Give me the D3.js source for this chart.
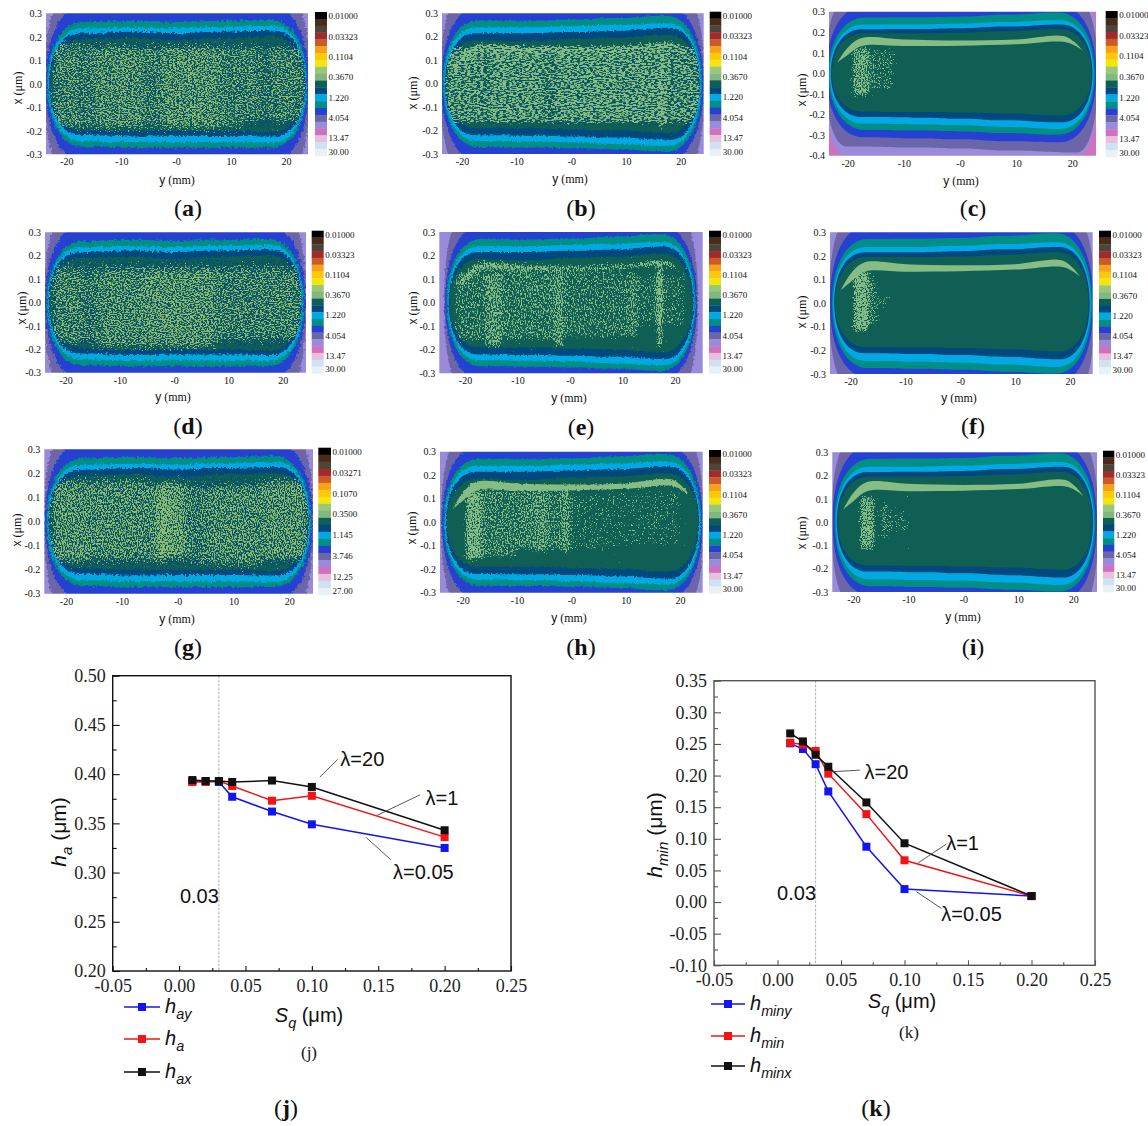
<!DOCTYPE html>
<html>
<head>
<meta charset="utf-8">
<script src="https://cdn.jsdelivr.net/npm/d3@7"></script>
<style>
  body { margin: 0; background: #fff; }
  svg { display: block; }
  text { fill: #111; }
  .serif { font-family: "Liberation Serif", serif; }
  .sans { font-family: "Liberation Sans", sans-serif; }
</style>
</head>
<body>
<div id="chart"></div>
<script>
// colour scale of the film thickness maps, top to bottom
var barColors = ["#000000", "#4a2a18", "#4c4638", "#a02a2c", "#c95a2a", "#f5a21a", "#fcc80a", "#f2e60e",
  "#98c878", "#7fb981", "#0f5f55", "#00487e", "#00a9e4", "#008f84", "#2640d2", "#6c66a8", "#9a8ada",
  "#d070c0", "#e8c0de", "#cfe2f2", "#e8f1f6"];
var barLabels = ["0.01000", "0.03323", "0.1104", "0.3670", "1.220", "4.054", "13.47", "30.00"];
var barLabelsG = ["0.01000", "0.03271", "0.1070", "0.3500", "1.145", "3.746", "12.25", "27.00"];
var barLabelSteps = [0, 1, 2, 3, 4, 5, 6, 6.68];

var mapYTicks = [-20, -10, 0, 10, 20];
var mapYLabels = ["-20", "-10", "-0", "10", "20"];
var mapXTicks = [-0.3, -0.2, -0.1, 0, 0.1, 0.2, 0.3];
var mapXTicksC = [-0.4, -0.3, -0.2, -0.1, 0, 0.1, 0.2, 0.3];

// contour rows: left, right, corner run, top at 5 stations, bottom at 5 stations (outer to inner)
var bandFills = ["#6c66a8", "#2640d2", "#008f84", "#00a9e4", "#00487e", "#0f5f55"];
var roughContours = [
  [-24, 24.4, 3.5, 0.36, 0.36, 0.36, 0.36, 0.36, -0.36, -0.36, -0.36, -0.36, -0.36],
  [-23.8, 24.2, 6.5, 0.325, 0.325, 0.325, 0.325, 0.325, -0.325, -0.325, -0.325, -0.325, -0.325],
  [-23.5, 23.9, 6.5, 0.262, 0.268, 0.264, 0.268, 0.272, -0.268, -0.272, -0.272, -0.272, -0.272],
  [-23.3, 23.7, 6, 0.236, 0.24, 0.236, 0.242, 0.246, -0.244, -0.248, -0.248, -0.248, -0.25],
  [-23.1, 23.5, 5.5, 0.215, 0.222, 0.216, 0.222, 0.226, -0.218, -0.224, -0.222, -0.222, -0.224],
  [-22.9, 23.3, 5.5, 0.19, 0.195, 0.185, 0.195, 0.2, -0.195, -0.2, -0.2, -0.2, -0.205]
];
var midContours = [
  [-24, 24.4, 3.5, 0.36, 0.36, 0.36, 0.36, 0.36, -0.36, -0.36, -0.36, -0.36, -0.36],
  [-23.8, 24.2, 6.5, 0.325, 0.325, 0.325, 0.325, 0.325, -0.325, -0.325, -0.325, -0.325, -0.325],
  [-23.5, 23.9, 6.5, 0.27, 0.268, 0.272, 0.28, 0.29, -0.27, -0.272, -0.275, -0.28, -0.29],
  [-23.3, 23.7, 6, 0.24, 0.24, 0.245, 0.25, 0.258, -0.245, -0.247, -0.25, -0.258, -0.265],
  [-23.1, 23.5, 5.5, 0.215, 0.215, 0.22, 0.225, 0.238, -0.22, -0.222, -0.225, -0.23, -0.24],
  [-22.9, 23.3, 5.5, 0.185, 0.18, 0.19, 0.195, 0.208, -0.19, -0.19, -0.195, -0.2, -0.21]
];
var smoothContours = [
  [-24, 24.6, 3.8, 0.36, 0.36, 0.36, 0.36, 0.36, -0.355, -0.36, -0.365, -0.375, -0.385],
  [-23.8, 24.3, 6.5, 0.325, 0.32, 0.32, 0.325, 0.33, -0.31, -0.316, -0.32, -0.33, -0.335],
  [-23.4, 24, 6.5, 0.272, 0.273, 0.276, 0.285, 0.296, -0.275, -0.278, -0.282, -0.29, -0.298],
  [-23.2, 23.8, 6, 0.238, 0.238, 0.243, 0.25, 0.258, -0.245, -0.248, -0.252, -0.26, -0.27],
  [-23, 23.6, 5.5, 0.215, 0.216, 0.22, 0.228, 0.238, -0.212, -0.215, -0.22, -0.228, -0.238],
  [-22.8, 23.4, 5.5, 0.195, 0.195, 0.198, 0.205, 0.215, -0.186, -0.188, -0.19, -0.195, -0.205]
];
var pinkContour = [-24.4, 24.9, 4.5, 0.42, 0.42, 0.42, 0.42, 0.42, -0.41, -0.41, -0.41, -0.415, -0.415];
var contourStations = [-8, 0, 8];

// the light green crescent under the top of the film
var crescentY = [-21.8, -20, -17.5, -10, 0, 10, 18.4, 20.5, 21.8];
var crescentTop = [0.055, 0.125, 0.172, 0.165, 0.16, 0.165, 0.182, 0.15, 0.112];
var crescentBottom = [0.055, 0.09, 0.133, 0.133, 0.135, 0.142, 0.154, 0.135, 0.112];

// speckle patches per map: y from, y to, x from, x to, density
var speckA = [[-23, -17, -0.2, 0.18, 0.64], [-17, -15.5, -0.2, 0.18, 0.56], [-15.5, -6, -0.2, 0.17, 0.68], [-6, -3, -0.2, 0.17, 0.6], [-3, 8, -0.2, 0.17, 0.7], [8, 12, -0.2, 0.17, 0.62], [12, 15, -0.17, 0.17, 0.66], [15, 17, -0.17, 0.17, 0.56], [17, 24, -0.17, 0.17, 0.64]];
var speckB = [[-23, -16, -0.17, 0.16, 0.7], [-16, -15, -0.17, 0.16, 0.62], [-15, -5, -0.17, 0.16, 0.72], [-5, -3, -0.17, 0.16, 0.62], [-3, 15, -0.17, 0.16, 0.72], [15, 16, -0.17, 0.16, 0.72], [16, 17, -0.2, 0.17, 0.86], [17, 24, -0.17, 0.16, 0.68]];
var speckC = [[-19.2, -16, -0.11, 0.13, 0.76], [-16, -11.6, -0.08, 0.12, 0.48]];
var speckD = [[-23, -16.5, -0.18, 0.16, 0.64], [-16.5, -14.5, -0.18, 0.16, 0.56], [-14.5, -6, -0.2, 0.16, 0.66], [-6, 8, -0.2, 0.16, 0.7], [8, 15, -0.17, 0.16, 0.62], [15, 24, -0.17, 0.16, 0.64]];
var speckE = [[-22, -16, -0.17, 0.13, 0.54], [-16, -13, -0.19, 0.13, 0.72], [-13, -3, -0.16, 0.13, 0.58], [-3, -1.2, -0.19, 0.13, 0.74], [-1.2, 11, -0.15, 0.13, 0.54], [11, 13, -0.15, 0.13, 0.66], [16.6, 17.6, -0.19, 0.16, 1], [13, 22, -0.1, 0.12, 0.48]];
var speckF = [[-19.6, -16.6, -0.12, 0.14, 0.88], [-16.6, -14.8, -0.09, 0.11, 0.5], [-14.8, -13, -0.02, 0.03, 0.44]];
var speckG = [[-23, -16, -0.18, 0.18, 0.7], [-16, -5, -0.17, 0.18, 0.68], [-5, -2, -0.18, 0.16, 0.64], [-3.5, 1.5, -0.16, 0.17, 0.78], [1.5, 5, -0.18, 0.16, 0.6], [5, 15, -0.19, 0.16, 0.68], [15, 24, -0.17, 0.18, 0.7]];
var speckH = [[-19.6, -16.4, -0.16, 0.14, 0.84], [-16.4, -10, -0.15, 0.14, 0.58], [-10, -7, -0.12, 0.14, 0.62], [-7, -4, -0.13, 0.14, 0.7], [-4, -1.8, -0.12, 0.14, 0.58], [-1.8, -0.2, -0.13, 0.14, 0.74], [-0.2, 7, -0.12, 0.12, 0.4], [7, 20, -0.1, 0.13, 0.38]];
var speckI = [[-18.9, -16, -0.12, 0.11, 0.8], [-15, -13.5, -0.08, 0.08, 0.56], [-13.5, -10, -0.04, 0.04, 0.42]];
var speckList = [speckA, speckB, speckC, speckD, speckE, speckF, speckG, speckH, speckI];

// crescent drawn as grains on maps b and e, density
var crescentGrain = [0, 0.78, 0, 0, 0.86, 0, 0, 0, 0];

// navy and yellow grains of the rough maps
var navyRough = [[-23.5, 24, -0.2, 0.19, 0.62]];
var navyB = [[-23, 24, -0.19, 0.18, 0.5]];
var yellowRough = [[-23, 23, -0.19, 0.17, 0.02]];

var panelNames = ["a", "b", "c", "d", "e", "f", "g", "h", "i"];
// plot left, top, right, bottom, tick -20, tick 20
var panelBoxes = [
  [46, 13.3, 308, 154.3, 66.3, 286], [442, 13.3, 703.7, 154, 462, 680.7], [829, 11.7, 1096, 155.7, 847.7, 1072.3],
  [45, 232.3, 306, 372.7, 65.7, 282.7], [439.3, 232, 702.7, 373.3, 465, 675], [830, 232.3, 1092.7, 374, 850.7, 1070],
  [44.3, 449.3, 313, 593.7, 66, 289.3], [440, 451.7, 702.7, 592.7, 462.7, 680], [832.3, 452.3, 1097, 592, 853.3, 1073.3]
];
// colour bar left, top, right, bottom
var barBoxes = [
  [315, 12, 327, 156], [709.7, 11.7, 721.3, 155.7], [1105.7, 11, 1117.7, 157],
  [311.7, 230.7, 323.7, 373.3], [709, 230.7, 721, 373.3], [1099, 230.7, 1111, 374],
  [318.3, 447.7, 331, 595], [709, 450, 721, 593.3], [1103, 450.7, 1114.3, 592]
];
// x title x, x title y, y title x, y title y, letter x, letter y
var titleSpots = [
  [18, 88, 177, 180, 188, 208], [413, 93, 570, 179, 581, 208], [802, 90, 961, 181, 973, 208],
  [21.7, 308, 173, 397, 188, 426], [412.7, 308, 569, 398, 581, 426.7], [802, 312, 959, 398, 973, 426],
  [16.7, 530, 177, 619, 188, 646.7], [412, 528, 569, 618, 581, 646.7], [802, 533, 963, 617, 973, 646.7]
];
var panelKind = ["rough", "mid", "smooth", "rough", "mid", "smooth", "rough", "mid", "smooth"];
var grainFreq = ["0.53 0.83", "0.31 0.93", "0.83 0.79", "0.53 0.83", "0.83 0.47", "0.83 0.79", "0.83 0.53", "0.83 0.53", "0.83 0.79"];

// line charts
var sqValues = [0.01, 0.02, 0.03, 0.04, 0.07, 0.10, 0.20];
var hay = [0.393, 0.393, 0.392, 0.377, 0.362, 0.349, 0.325];
var ha = [0.392, 0.392, 0.393, 0.388, 0.373, 0.378, 0.336];
var hax = [0.394, 0.393, 0.393, 0.392, 0.3935, 0.387, 0.343];
var hminy = [0.251, 0.242, 0.218, 0.175, 0.0875, 0.0205, 0.0095];
var hmin = [0.252, 0.249, 0.239, 0.203, 0.139, 0.066, 0.0095];
var hminx = [0.2666, 0.254, 0.233, 0.214, 0.1575, 0.093, 0.0095];

var sqTicks = [-0.05, 0, 0.05, 0.10, 0.15, 0.20, 0.25];
var sqMinor = [-0.025, 0.025, 0.075, 0.125, 0.175, 0.225];
var haTicks = [0.20, 0.25, 0.30, 0.35, 0.40, 0.45, 0.50];
var haMinor = [0.225, 0.275, 0.325, 0.375, 0.425, 0.475];
var hminTicks = [-0.10, -0.05, 0, 0.05, 0.10, 0.15, 0.20, 0.25, 0.30, 0.35];
var hminMinor = [-0.075, -0.025, 0.025, 0.075, 0.125, 0.175, 0.225, 0.275, 0.325];

var lineColors = ["#1414f0", "#f01414", "#111111"];
var lambdaLabels = ["λ=20", "λ=1", "λ=0.05"];
// leader x1, y1, x2, y2, label x, label y
var haNotes = [[0.106, 0.397, 0.1195, 0.415, 0.138, 0.4155], [0.149, 0.358, 0.1815, 0.379, 0.198, 0.376], [0.141, 0.3355, 0.1595, 0.313, 0.184, 0.301]];
var hminNotes = [[0.0425, 0.206, 0.0648, 0.2086, 0.0858, 0.206], [0.1108, 0.062, 0.133, 0.0917, 0.1457, 0.0927], [0.1094, 0.0163, 0.129, -0.01, 0.1528, -0.019]];

var svg = d3.select("#chart").append("svg").attr("width", 1148).attr("height", 1126);
var defs = svg.append("defs");

function addRoughFilter(id, freq, scale) {
  var f = defs.append("filter").attr("id", id).attr("color-interpolation-filters", "sRGB");
  f.append("feTurbulence").attr("type", "fractalNoise").attr("baseFrequency", freq).attr("numOctaves", 2).attr("seed", 7);
  f.append("feDisplacementMap").attr("in", "SourceGraphic").attr("scale", scale)
    .attr("xChannelSelector", "R").attr("yChannelSelector", "G");
  f.append("feGaussianBlur").attr("stdDeviation", 0.35);
}
addRoughFilter("edgeRough", 0.37, 6);
addRoughFilter("edgeMid", 0.41, 3.5);
addRoughFilter("edgeSmooth", 0.53, 1);

// grain: the patch alpha decides how much of the noise comes through
function addGrainFilter(id, color, freq, seed, soft) {
  var f = defs.append("filter").attr("id", id).attr("color-interpolation-filters", "sRGB")
    .attr("x", "-5%").attr("y", "-5%").attr("width", "110%").attr("height", "110%");
  f.append("feTurbulence").attr("type", "fractalNoise").attr("baseFrequency", freq).attr("numOctaves", 2).attr("seed", seed).attr("result", "n");
  f.append("feColorMatrix").attr("in", "n").attr("type", "matrix")
    .attr("values", "0 0 0 0 0  0 0 0 0 0  0 0 0 0 0  1 0 0 0 0").attr("result", "na");
  f.append("feGaussianBlur").attr("in", "SourceAlpha").attr("stdDeviation", soft).attr("result", "dens");
  f.append("feComposite").attr("in", "na").attr("in2", "dens").attr("operator", "arithmetic")
    .attr("k1", 0).attr("k2", 1).attr("k3", 0.5).attr("k4", -0.8).attr("result", "m");
  var t = f.append("feComponentTransfer").attr("in", "m").attr("result", "hard");
  t.append("feFuncA").attr("type", "linear").attr("slope", 10);
  f.append("feFlood").attr("flood-color", color);
  f.append("feComposite").attr("in2", "hard").attr("operator", "in");
  f.append("feGaussianBlur").attr("stdDeviation", 0.3);
}

function contourPath(row, sx, sy) {
  var left = row[0], right = row[1], run = row[2];
  var tops = row.slice(3, 8), bots = row.slice(8, 13);
  var ys = [left + run].concat(contourStations, [right - run]);
  var p = d3.path();
  p.moveTo(sx(left), sy(0));
  p.bezierCurveTo(sx(left), sy(tops[0] * 0.6), sx(left + run * 0.42), sy(tops[0]), sx(ys[0]), sy(tops[0]));
  for (var i = 1; i < ys.length; i++) {
    var mx = sx((ys[i - 1] + ys[i]) / 2);
    p.bezierCurveTo(mx, sy(tops[i - 1]), mx, sy(tops[i]), sx(ys[i]), sy(tops[i]));
  }
  p.bezierCurveTo(sx(right - run * 0.42), sy(tops[4]), sx(right), sy(tops[4] * 0.6), sx(right), sy(0));
  p.bezierCurveTo(sx(right), sy(bots[4] * 0.6), sx(right - run * 0.42), sy(bots[4]), sx(ys[4]), sy(bots[4]));
  for (var j = ys.length - 2; j >= 0; j--) {
    var mb = sx((ys[j + 1] + ys[j]) / 2);
    p.bezierCurveTo(mb, sy(bots[j + 1]), mb, sy(bots[j]), sx(ys[j]), sy(bots[j]));
  }
  p.bezierCurveTo(sx(left + run * 0.42), sy(bots[0]), sx(left), sy(bots[0] * 0.6), sx(left), sy(0));
  p.closePath();
  return p.toString();
}

function drawSpeckles(parent, id, color, freq, seed, patches, sx, sy, soft) {
  addGrainFilter(id, color, freq, seed, soft);
  var layer = parent.append("g").attr("filter", "url(#" + id + ")");
  layer.selectAll("rect").data(patches).enter().append("rect")
    .attr("x", function(d) { return sx(d[0]); })
    .attr("width", function(d) { return sx(d[1]) - sx(d[0]); })
    .attr("y", function(d) { return sy(d[3]); })
    .attr("height", function(d) { return sy(d[2]) - sy(d[3]); })
    .attr("fill", "#000")
    .attr("fill-opacity", function(d) { return d[4]; });
  return layer;
}

function crescentPath(sx, sy) {
  var area = d3.area().curve(d3.curveCatmullRom)
    .x(function(k) { return sx(crescentY[k]); })
    .y0(function(k) { return sy(crescentBottom[k]); })
    .y1(function(k) { return sy(crescentTop[k]); });
  return area(d3.range(crescentY.length));
}

function drawMap(i) {
  var box = panelBoxes[i], name = panelNames[i], kind = panelKind[i];
  var contours = kind == "rough" ? roughContours : (kind == "mid" ? midContours : smoothContours);
  var xMin = name == "c" ? -0.4 : -0.3;
  var sx = d3.scaleLinear().domain([-20, 20]).range([box[4], box[5]]);
  var sy = d3.scaleLinear().domain([xMin, 0.3]).range([box[3], box[1]]);

  defs.append("clipPath").attr("id", "plot-" + name).append("rect")
    .attr("x", box[0]).attr("y", box[1]).attr("width", box[2] - box[0]).attr("height", box[3] - box[1]);
  defs.append("clipPath").attr("id", "core-" + name).append("path").attr("d", contourPath(contours[4], sx, sy));

  var plot = svg.append("g").attr("clip-path", "url(#plot-" + name + ")");
  var edge = kind == "rough" ? "edgeRough" : (kind == "mid" ? "edgeMid" : "edgeSmooth");
  var bands = plot.append("g").attr("filter", "url(#" + edge + ")");
  bands.append("rect").attr("x", box[0] - 20).attr("y", box[1] - 20)
    .attr("width", box[2] - box[0] + 40).attr("height", box[3] - box[1] + 40)
    .attr("fill", name == "c" ? "#d070c0" : "#9a8ada");
  if (name == "c") bands.append("path").attr("d", contourPath(pinkContour, sx, sy)).attr("fill", "#9a8ada");
  bands.selectAll("path.band").data(contours).enter().append("path").attr("class", "band")
    .attr("d", function(d) { return contourPath(d, sx, sy); })
    .attr("fill", function(d, k) { return bandFills[k]; });

  if (name == "c" || name == "f" || name == "h" || name == "i") {
    bands.append("path").attr("d", crescentPath(sx, sy)).attr("fill", "#86bd84");
  }

  var core = plot.append("g").attr("clip-path", "url(#core-" + name + ")");
  if (kind == "rough") drawSpeckles(core, "navy-" + name, "#00487e", grainFreq[i], 11 + i, navyRough, sx, sy, 4);
  if (name == "b") drawSpeckles(core, "navy-" + name, "#00487e", grainFreq[i], 11 + i, navyB, sx, sy, 4);
  var green = kind == "rough" ? "#8cbc70" : "#86bd84";
  var grains = drawSpeckles(core, "green-" + name, green, grainFreq[i], 31 + i, speckList[i], sx, sy, kind == "rough" ? 4 : 2);
  if (crescentGrain[i] > 0) {
    grains.append("path").attr("d", crescentPath(sx, sy)).attr("fill", "#000").attr("fill-opacity", crescentGrain[i]);
  }
  if (kind == "rough") drawSpeckles(core, "yellow-" + name, "#e4dc3c", "0.47 0.83", 51 + i, yellowRough, sx, sy, 1);

  // axes
  var axisX = d3.axisBottom(sx).tickValues(mapYTicks).tickSize(0).tickPadding(4)
    .tickFormat(function(d, k) { return mapYLabels[k]; });
  var gx = svg.append("g").attr("transform", "translate(0," + box[3] + ")").call(axisX);
  var axisY = d3.axisLeft(sy).tickValues(name == "c" ? mapXTicksC : mapXTicks).tickSize(0).tickPadding(4)
    .tickFormat(function(d) { return d3.format(".1f")(d).replace("−", "-"); });
  var gy = svg.append("g").attr("transform", "translate(" + box[0] + ",0)").call(axisY);
  [gx, gy].forEach(function(a) {
    a.attr("font-family", '"Liberation Serif", serif').attr("font-size", 10);
    a.select(".domain").remove();
  });

  // colour bar
  var bar = barBoxes[i];
  var cell = d3.scaleBand().domain(d3.range(barColors.length)).range([bar[1], bar[3]]);
  svg.append("g").selectAll("rect").data(barColors).enter().append("rect")
    .attr("x", bar[0]).attr("width", bar[2] - bar[0])
    .attr("y", function(d, k) { return cell(k); }).attr("height", cell.bandwidth() + 0.3)
    .attr("fill", function(d) { return d; });
  var labelY = d3.scaleLinear().domain([0, 6.68]).range([bar[1] + 4, bar[3] - 4]);
  svg.append("g").selectAll("text").data(name == "g" ? barLabelsG : barLabels).enter().append("text")
    .attr("class", "serif").attr("x", bar[2] + 1.5)
    .attr("y", function(d, k) { return labelY(barLabelSteps[k]); })
    .attr("dy", "0.35em").style("font-size", "9px").text(function(d) { return d; });

  // titles
  var spot = titleSpots[i];
  var xt = svg.append("text").attr("transform", "translate(" + spot[0] + "," + spot[1] + ") rotate(-90)")
    .attr("text-anchor", "middle").attr("dy", "0.35em").style("font-size", "12px").attr("class", "sans");
  xt.append("tspan").text("x");
  xt.append("tspan").attr("class", "serif").text(" (μm)");
  var yt = svg.append("text").attr("x", spot[2]).attr("y", spot[3]).attr("text-anchor", "middle")
    .attr("dy", "0.35em").style("font-size", "12px").attr("class", "sans");
  yt.append("tspan").text("y");
  yt.append("tspan").attr("class", "serif").text(" (mm)");
  addLetter(spot[4], spot[5], name);
}

function addLetter(x, y, name) {
  var t = svg.append("text").attr("class", "serif").attr("x", x).attr("y", y).attr("text-anchor", "middle")
    .attr("dy", "0.33em").style("font-size", "24px");
  t.append("tspan").text("(");
  t.append("tspan").style("font-weight", "bold").text(name);
  t.append("tspan").text(")");
}

panelNames.forEach(function(d, i) { drawMap(i); });

// text with an italic subscript
function subText(parent, x, y, size, main, sub, tail) {
  var t = parent.append("text").attr("class", "sans").attr("x", x).attr("y", y).style("font-size", size + "px");
  t.append("tspan").style("font-style", "italic").text(main);
  t.append("tspan").style("font-style", "italic").style("font-size", (size * 0.72) + "px").attr("dy", size * 0.3).text(sub);
  if (tail) t.append("tspan").style("font-size", size + "px").attr("dy", -size * 0.3).text(tail);
  return t;
}

function drawLineChart(opt) {
  var sx = d3.scaleLinear().domain([-0.05, 0.25]).range([opt.left, opt.right]);
  var sy = d3.scaleLinear().domain(opt.domain).range([opt.bottom, opt.top]);
  var g = svg.append("g");
  var plain = function(d) { return d3.format(".2f")(d).replace("−", "-"); };

  g.append("line").attr("x1", sx(0.03)).attr("x2", sx(0.03)).attr("y1", opt.top).attr("y2", opt.bottom)
    .attr("stroke", "#888").attr("stroke-width", 0.7).attr("stroke-dasharray", "2.5 1.5");

  var bx = d3.axisBottom(sx).tickValues(sqTicks).tickSizeInner(-5).tickSizeOuter(0).tickPadding(8).tickFormat(plain);
  var by = d3.axisLeft(sy).tickValues(opt.yTicks).tickSizeInner(-7).tickSizeOuter(0).tickPadding(7).tickFormat(plain);
  var gx = g.append("g").attr("transform", "translate(0," + opt.bottom + ")").call(bx);
  var gy = g.append("g").attr("transform", "translate(" + opt.left + ",0)").call(by);
  g.append("g").attr("transform", "translate(0," + opt.bottom + ")")
    .call(d3.axisBottom(sx).tickValues(sqMinor).tickSizeInner(-3).tickSizeOuter(0).tickFormat(""));
  g.append("g").attr("transform", "translate(" + opt.left + ",0)")
    .call(d3.axisLeft(sy).tickValues(opt.yMinor).tickSizeInner(-4).tickSizeOuter(0).tickFormat(""));
  [gx, gy].forEach(function(a) {
    a.attr("font-family", '"Liberation Serif", serif').attr("font-size", 18);
    a.selectAll("text").style("fill", "#222");
  });
  g.selectAll(".tick line").attr("stroke", opt.frame).attr("stroke-width", 1.1);
  g.selectAll(".domain").attr("stroke", "none");
  g.append("rect").attr("x", opt.left).attr("y", opt.top).attr("width", opt.right - opt.left)
    .attr("height", opt.bottom - opt.top).attr("fill", "none").attr("stroke", opt.frame).attr("stroke-width", 1.4);

  var line = d3.line().x(function(d, k) { return sx(sqValues[k]); }).y(function(d) { return sy(d); });
  opt.series.forEach(function(values, s) {
    g.append("path").attr("d", line(values)).attr("fill", "none").attr("stroke", lineColors[s]).attr("stroke-width", 1.5);
    g.selectAll("rect.m" + s).data(values).enter().append("rect").attr("class", "m" + s)
      .attr("x", function(d, k) { return sx(sqValues[k]) - 4; })
      .attr("y", function(d) { return sy(d) - 4; })
      .attr("width", 8).attr("height", 8).attr("fill", lineColors[s]);
  });

  opt.notes.forEach(function(n, k) {
    g.append("line").attr("x1", sx(n[0])).attr("y1", sy(n[1])).attr("x2", sx(n[2])).attr("y2", sy(n[3]))
      .attr("stroke", "#444").attr("stroke-width", 0.9);
    g.append("text").attr("class", "sans").attr("x", sx(n[4])).attr("y", sy(n[5])).attr("text-anchor", "middle")
      .attr("dy", "0.35em").style("font-size", "20px").text(lambdaLabels[k]);
  });
  g.append("text").attr("class", "sans").attr("x", sx(opt.cut[0])).attr("y", sy(opt.cut[1])).attr("text-anchor", "middle")
    .attr("dy", "0.35em").style("font-size", "20px").text("0.03");

  // legend
  opt.legend.forEach(function(name, s) {
    var ly = opt.legendY[s];
    g.append("line").attr("x1", opt.legendX[0]).attr("x2", opt.legendX[1]).attr("y1", ly).attr("y2", ly)
      .attr("stroke", lineColors[s]).attr("stroke-width", 1.5);
    g.append("rect").attr("x", (opt.legendX[0] + opt.legendX[1]) / 2 - 4).attr("y", ly - 4).attr("width", 8).attr("height", 8)
      .attr("fill", lineColors[s]);
    subText(g, opt.legendX[1] + 5, ly + 6, 20, "h", name);
  });

  var yTitle = subText(g, 0, 0, 21, "h", opt.yName, " (μm)");
  yTitle.attr("text-anchor", "middle").attr("transform", "translate(" + opt.yTitle[0] + "," + opt.yTitle[1] + ") rotate(-90)");
  var xTitle = subText(g, opt.xTitle[0], opt.xTitle[1], 20, "S", "q", " (μm)");
  xTitle.attr("text-anchor", "middle");

  g.append("text").attr("class", "serif").attr("x", opt.inner[0]).attr("y", opt.inner[1]).attr("text-anchor", "middle")
    .attr("dy", "0.35em").style("font-size", "17px").text(opt.innerText);
  addLetter(opt.letter[0], opt.letter[1], opt.letterName);
}

drawLineChart({
  left: 112.7, right: 511, top: 675.7, bottom: 971, frame: "#111", domain: [0.20, 0.50],
  yTicks: haTicks, yMinor: haMinor, series: [hay, ha, hax], notes: haNotes, cut: [0.0153, 0.2765],
  legend: ["ay", "a", "ax"], legendX: [124, 160], legendY: [1007, 1039, 1072],
  yName: "a", yTitle: [66, 832], xTitle: [309, 1022], inner: [309, 1052], innerText: "(j)",
  letter: [286, 1108], letterName: "j"
});
drawLineChart({
  left: 714, right: 1095, top: 680.7, bottom: 965.3, frame: "#555", domain: [-0.10, 0.35],
  yTicks: hminTicks, yMinor: hminMinor, series: [hminy, hmin, hminx], notes: hminNotes, cut: [0.015, 0.0147],
  legend: ["miny", "min", "minx"], legendX: [711, 745], legendY: [1004, 1036, 1066],
  yName: "min", yTitle: [662, 835], xTitle: [902, 1008], inner: [909, 1032], innerText: "(k)",
  letter: [876, 1108], letterName: "k"
});
</script>
</body>
</html>
